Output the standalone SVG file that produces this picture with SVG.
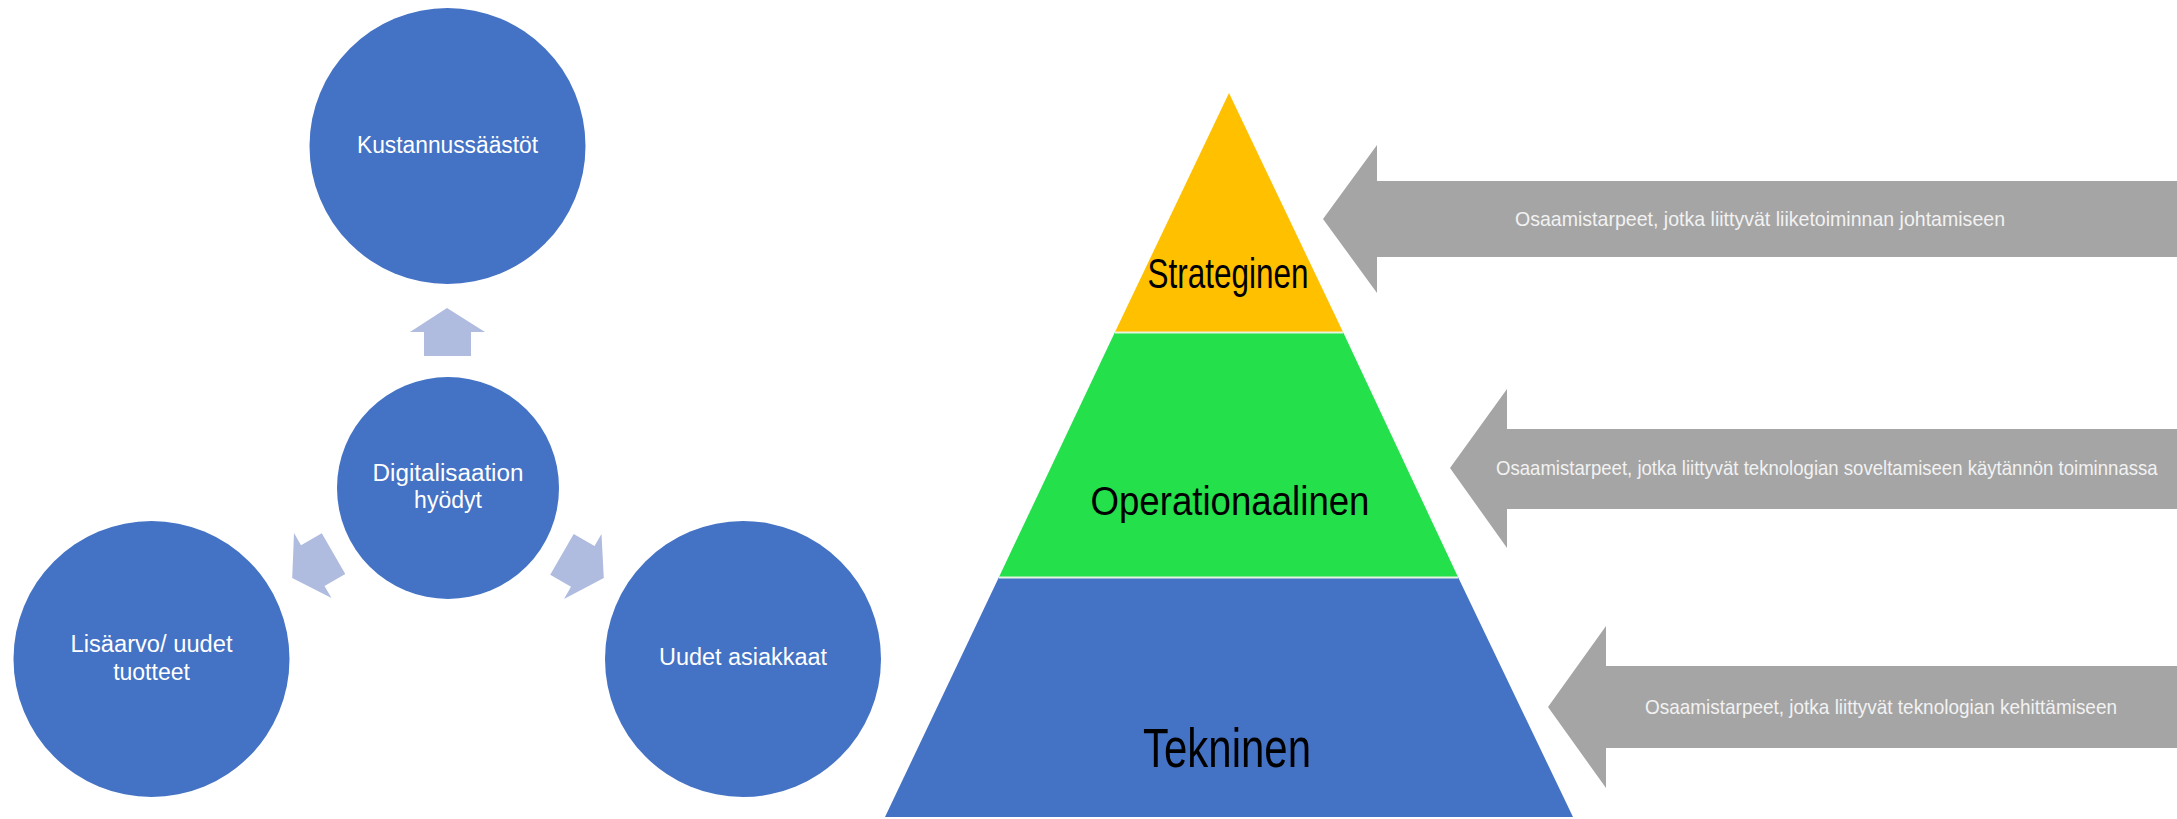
<svg xmlns="http://www.w3.org/2000/svg" width="2177" height="819" viewBox="0 0 2177 819">
<style>
.circle{fill:#4472C4}
.ctext{font-family:"Liberation Sans",Arial,sans-serif;font-size:23px;fill:#FFFFFF;text-anchor:middle}
.ptext{font-family:"Liberation Sans",Arial,sans-serif;fill:#000000;text-anchor:middle}
.garrow{fill:#A5A5A5}
.gtext{font-family:"Liberation Sans",Arial,sans-serif;font-size:21px;fill:#F2F2F2}
.barrow{fill:#AFBCDF}
.sep{stroke:#E6F4E0;stroke-width:2}
</style>
<defs>
<path id="smallArrow" d="M0,-24 L38,0 L24,0 L24,24 L-23,24 L-23,0 L-37,0 Z"/>
</defs>
<rect width="2177" height="819" fill="#FFFFFF"/>

<g id="connectors">
<use href="#smallArrow" class="barrow" transform="translate(447,332)"/>
<use href="#smallArrow" class="barrow" transform="translate(313,566) rotate(-120)"/>
<use href="#smallArrow" class="barrow" transform="translate(583,566) rotate(120)"/>
</g>

<g id="node-kustannussaastot">
<circle class="circle" cx="447.5" cy="146" r="138"/>
<text class="ctext" x="447.5" y="153" textLength="181" lengthAdjust="spacingAndGlyphs">Kustannussäästöt</text>
</g>
<g id="node-digitalisaatio">
<circle class="circle" cx="448" cy="488" r="111"/>
<text class="ctext" x="448" y="481" textLength="151" lengthAdjust="spacingAndGlyphs">Digitalisaation</text>
<text class="ctext" x="448" y="508">hyödyt</text>
</g>
<g id="node-lisaarvo">
<circle class="circle" cx="151.5" cy="659" r="138"/>
<text class="ctext" x="151.5" y="652" textLength="162" lengthAdjust="spacingAndGlyphs">Lisäarvo/ uudet</text>
<text class="ctext" x="151.5" y="680">tuotteet</text>
</g>
<g id="node-uudet-asiakkaat">
<circle class="circle" cx="743" cy="659" r="138"/>
<text class="ctext" x="743" y="665" textLength="168" lengthAdjust="spacingAndGlyphs">Uudet asiakkaat</text>
</g>

<g id="node-strateginen">
<polygon points="1229,93 1343,332 1115,332" fill="#FFC000"/>
<text class="ptext" x="1228" y="288" font-size="42" textLength="161" lengthAdjust="spacingAndGlyphs">Strateginen</text>
</g>
<g id="node-operationaalinen">
<polygon points="1115,332 1343,332 1458,577 999,577" fill="#24E04B"/>
<text class="ptext" x="1230" y="515" font-size="40" textLength="279" lengthAdjust="spacingAndGlyphs">Operationaalinen</text>
</g>
<g id="node-tekninen">
<polygon points="999,577 1458,577 1573,817 885,817" fill="#4472C4"/>
<text class="ptext" x="1227" y="767" font-size="56" textLength="168" lengthAdjust="spacingAndGlyphs" fill="#0A0F1E">Tekninen</text>
</g>
<line class="sep" x1="1115" y1="332.5" x2="1343" y2="332.5"/>
<line class="sep" x1="999" y1="577.5" x2="1458" y2="577.5"/>

<g id="node-arrow-liiketoiminta">
<polygon class="garrow" points="1323,219 1377,145 1377,181 2177,181 2177,257 1377,257 1377,293"/>
<text class="gtext" x="1515" y="226" textLength="490" lengthAdjust="spacingAndGlyphs">Osaamistarpeet, jotka liittyvät liiketoiminnan johtamiseen</text>
</g>
<g id="node-arrow-soveltaminen">
<polygon class="garrow" points="1450,468 1507,389 1507,429 2177,429 2177,509 1507,509 1507,548"/>
<text class="gtext" transform="translate(1496,475) scale(0.885,1)" x="0" y="0">Osaamistarpeet, jotka liittyvät teknologian soveltamiseen käytännön toiminnassa</text>
</g>
<g id="node-arrow-kehittaminen">
<polygon class="garrow" points="1548,707 1606,626 1606,666 2177,666 2177,748 1606,748 1606,788"/>
<text class="gtext" x="1645" y="714" textLength="472" lengthAdjust="spacingAndGlyphs">Osaamistarpeet, jotka liittyvät teknologian kehittämiseen</text>
</g>
</svg>
